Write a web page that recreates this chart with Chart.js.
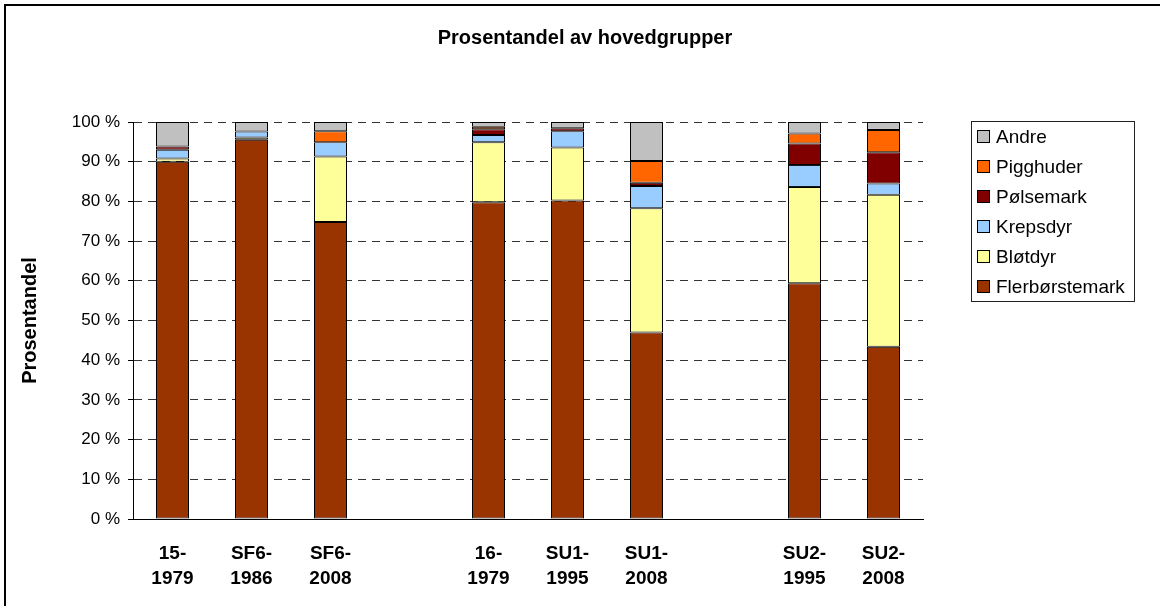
<!DOCTYPE html>
<html>
<head>
<meta charset="utf-8">
<script src="https://cdn.jsdelivr.net/npm/chart.js@4/dist/chart.umd.min.js"></script>
<style>
  html, body { margin: 0; padding: 0; background: #fff; }
  #wrap { width: 1160px; height: 606px; position: relative; }
</style>
</head>
<body>
<div id="wrap"><canvas id="groupChart" width="1160" height="606"></canvas></div>
<script>
const categories = [['15-', '1979'], ['SF6-', '1986'], ['SF6-', '2008'], '', ['16-', '1979'], ['SU1-', '1995'], ['SU1-', '2008'], '', ['SU2-', '1995'], ['SU2-', '2008']];
const yTicks = [0, 10, 20, 30, 40, 50, 60, 70, 80, 90, 100];

// bottom to top of each stack
const flerborstemark = [90.0, 95.5, 74.8, null, 79.8, 80.2, 47.0, null, 59.4, 43.4];
const blotdyr        = [0.8, 0.6, 16.5, null, 15.1, 13.4, 31.3, null, 24.2, 38.3];
const krepsdyr       = [2.2, 1.5, 3.6, null, 1.8, 4.1, 5.6, null, 5.6, 2.8];
const polsemark      = [0.8, null, null, null, 1.5, 0.7, 0.8, null, 5.4, 7.9];
const pigghuder      = [null, null, 2.8, null, 0.6, null, 5.5, null, 2.5, 5.6];
const andre          = [6.2, 2.4, 2.3, null, 1.2, 1.6, 9.8, null, 2.9, 2.0];

const FONT = 'Liberation Sans, Arial, Helvetica, sans-serif';

function series(label, data, color) {
    return {
        label: label,
        data: data,
        backgroundColor: color,
        borderColor: '#000',
        borderWidth: 1,
        borderSkipped: false,
        inflateAmount: 0,
        barThickness: 33
    };
}

// title, frame and boxed legend drawn on the canvas
const extras = {
    id: 'extras',
    afterDraw(chart) {
        const c = chart.ctx;
        c.save();
        c.strokeStyle = '#000';
        c.lineWidth = 2;
        c.beginPath();
        c.moveTo(5, 606);
        c.lineTo(5, 5);
        c.lineTo(1160, 5);
        c.stroke();

        c.fillStyle = '#000';
        c.font = 'bold 20px ' + FONT;
        c.textAlign = 'center';
        c.textBaseline = 'middle';
        c.fillText('Prosentandel av hovedgrupper', 585, 38);

        c.lineWidth = 1;
        c.strokeStyle = '#222';
        c.strokeRect(971.5, 121.5, 163, 180);
        c.font = '19px ' + FONT;
        c.textAlign = 'left';
        const sets = chart.data.datasets.slice().reverse();
        sets.forEach((ds, i) => {
            const y = 137 + i * 30;
            c.fillStyle = ds.backgroundColor;
            c.fillRect(977.5, y - 6.5, 12, 12);
            c.strokeStyle = '#000';
            c.strokeRect(977.5, y - 6.5, 12, 12);
            c.fillStyle = '#000';
            c.fillText(ds.label, 996, y + 1);
        });
        c.restore();
    }
};

const ctx = document.getElementById('groupChart').getContext('2d');
const chart = new Chart(ctx, {
    type: 'bar',
    data: {
        labels: categories,
        datasets: [
            series('Flerbørstemark', flerborstemark, '#993300'),
            series('Bløtdyr', blotdyr, '#FFFF99'),
            series('Krepsdyr', krepsdyr, '#99CCFF'),
            series('Pølsemark', polsemark, '#800000'),
            series('Pigghuder', pigghuder, '#FF6600'),
            series('Andre', andre, '#C0C0C0')
        ]
    },
    options: {
        responsive: false,
        animation: false,
        layout: { padding: { top: 122, right: 237, left: 5, bottom: 0 } },
        plugins: {
            legend: { display: false },
            title: { display: false },
            tooltip: { enabled: false }
        },
        scales: {
            x: {
                stacked: true,
                afterFit(s) { s.height = 87; },
                grid: { display: false },
                border: { display: true, color: '#000', width: 1 },
                ticks: {
                    color: '#000',
                    padding: 14,
                    maxRotation: 0,
                    autoSkip: false,
                    font: { family: FONT, size: 19, weight: 'bold', lineHeight: 1.32 }
                }
            },
            y: {
                stacked: true,
                min: 0,
                max: 100,
                afterFit(s) { s.width = 128; },
                afterBuildTicks(s) { s.ticks = yTicks.map(v => ({ value: v })); },
                grid: {
                    color: '#333',
                    lineWidth: 1,
                    tickLength: 5,
                    tickColor: '#000',
                    tickBorderDash: []
                },
                border: { display: true, color: '#000', width: 1, dash: [8, 6] },
                ticks: {
                    color: '#000',
                    padding: 8,
                    font: { family: FONT, size: 17 },
                    callback: v => v + ' %'
                },
                title: {
                    display: true,
                    text: 'Prosentandel',
                    color: '#000',
                    padding: { top: 13, bottom: 0 },
                    font: { family: FONT, size: 20, weight: 'bold' }
                }
            }
        }
    },
    plugins: [extras]
});
</script>
</body>
</html>
